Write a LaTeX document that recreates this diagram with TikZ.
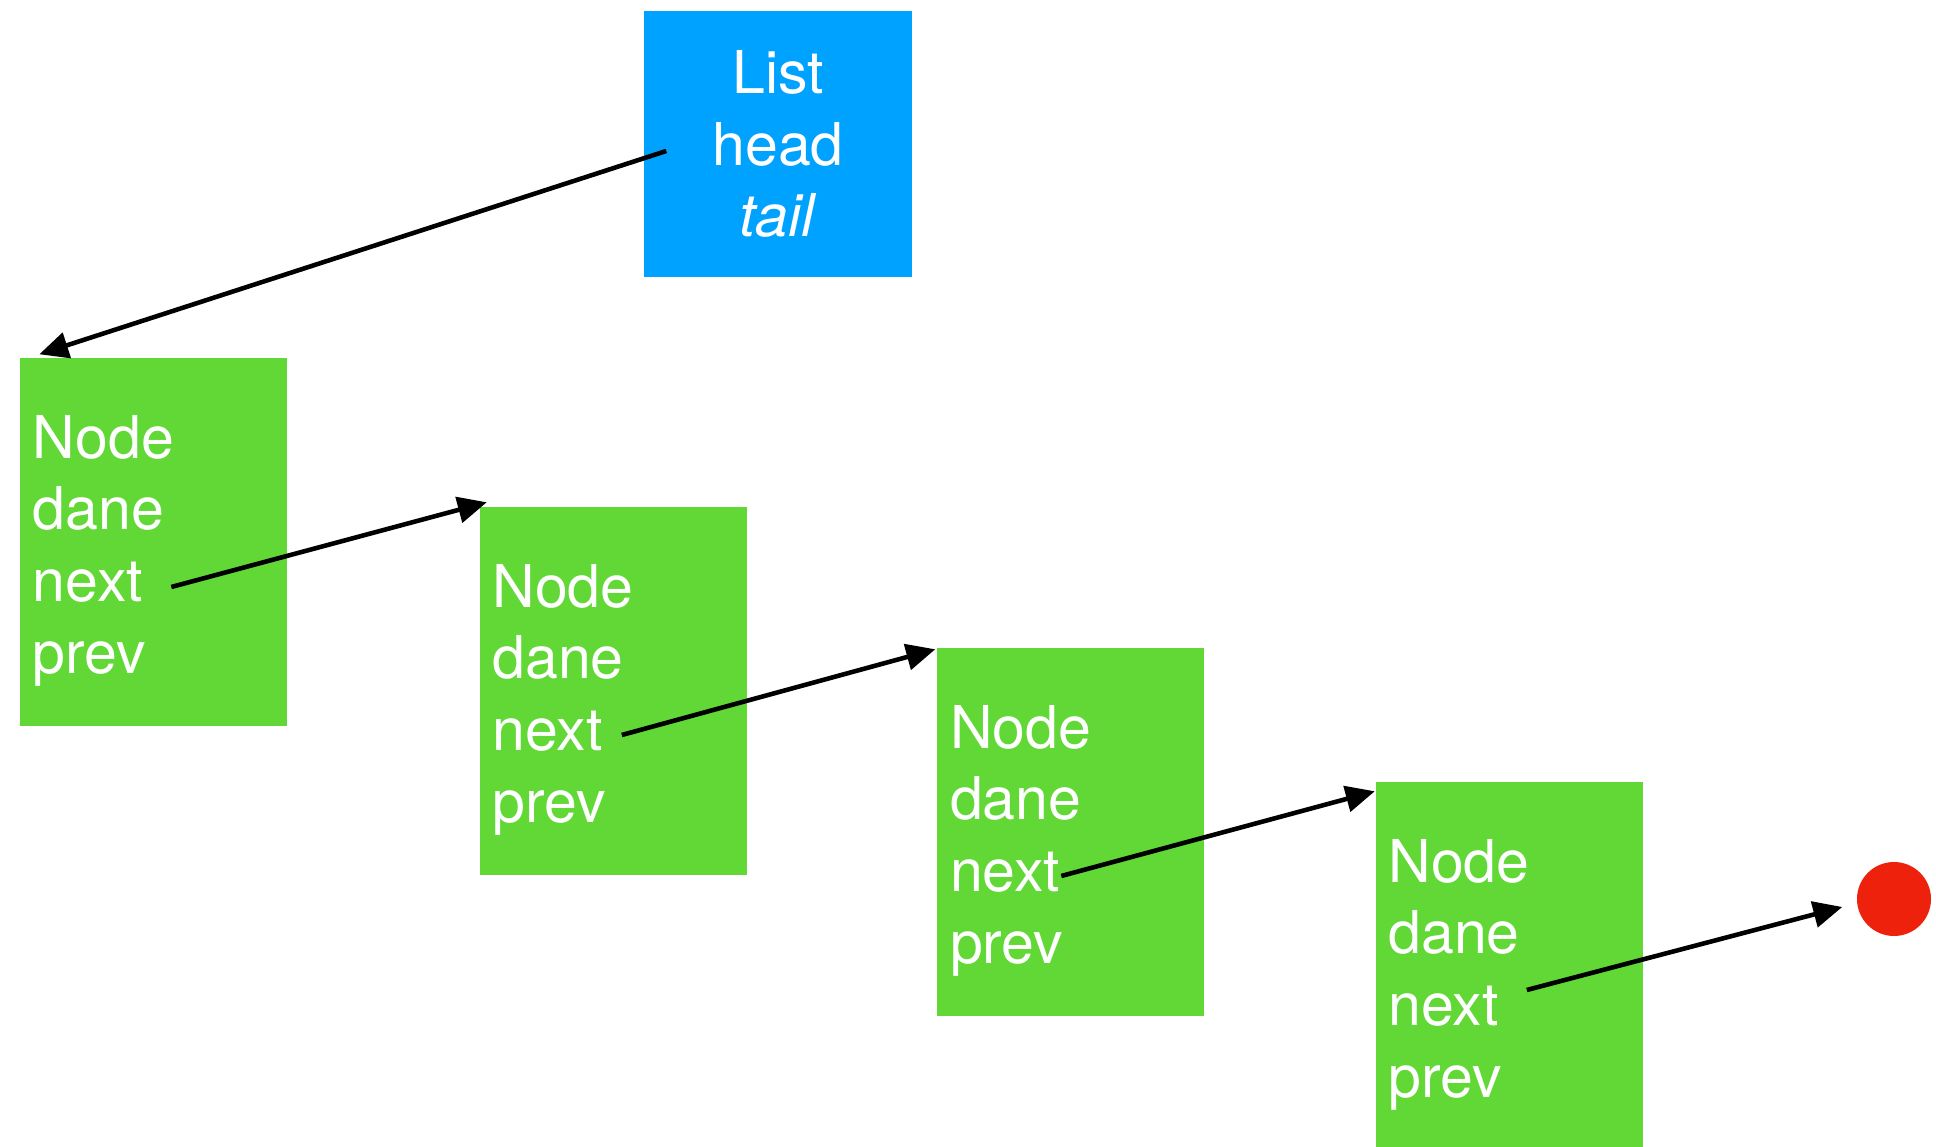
\documentclass[tikz,border=0pt]{standalone}
\usepackage{fontspec}
\setmainfont{TeX Gyre Heros}
\usetikzlibrary{arrows.meta,positioning}

\definecolor{listblue}{RGB}{0,162,255}
\definecolor{nodegreen}{RGB}{97,216,54}
\definecolor{nullred}{RGB}{238,34,12}

% fields of one element, the strut pushes the block a bit down
\newcommand{\fields}{\rule{0pt}{0.6cm}Node\\dane\\next\\prev}

\begin{document}
\begin{tikzpicture}[
    >={Triangle[length=0.29cm,width=0.26cm]},
    txt/.style={text=white,font=\fontsize{16.8}{20.4}\selectfont},
    cell/.style={rectangle,fill=nodegreen,txt,minimum width=2.67cm,minimum height=3.68cm,
        text width=2.41cm,inner xsep=0.13cm,inner ysep=0pt,align=left},
    link/.style={->,line width=1.3pt}
]
    \useasboundingbox (0,0) rectangle (19.36,-11.47);

    % the list itself
    \node[rectangle,fill=listblue,txt,minimum width=2.68cm,minimum height=2.66cm,align=center] (list) at (7.78,-1.44) {List\\head\\\textit{tail}};

    % elements of the list
    \node[cell] (n1) at (1.535,-5.42) {\fields};
    \node[cell] (n2) at (6.13,-6.91) {\fields};
    \node[cell] (n3) at (10.705,-8.32) {\fields};
    \node[cell] (n4) at (15.09,-9.66) {\fields};

    % end of the list
    \node[circle,fill=nullred,minimum size=0.74cm,inner sep=0pt] (null) at (18.94,-8.99) {};

    \draw[link] ([shift={(0.23,-0.07)}]list.west) -- ([shift={(0.20,0.03)}]n1.north west);
    \draw[link] ([shift={(1.52,-0.45)}]n1.west) -- ([shift={(0.08,0.04)}]n2.north west);
    \draw[link] ([shift={(1.43,-0.44)}]n2.west) -- ([shift={(-0.01,-0.02)}]n3.north west);
    \draw[link] ([shift={(1.25,-0.44)}]n3.west) -- ([shift={(0,-0.10)}]n4.north west);
    \draw[link] ([shift={(1.52,-0.24)}]n4.west) -- ([shift={(-0.14,-0.08)}]null.west);
\end{tikzpicture}
\end{document}
